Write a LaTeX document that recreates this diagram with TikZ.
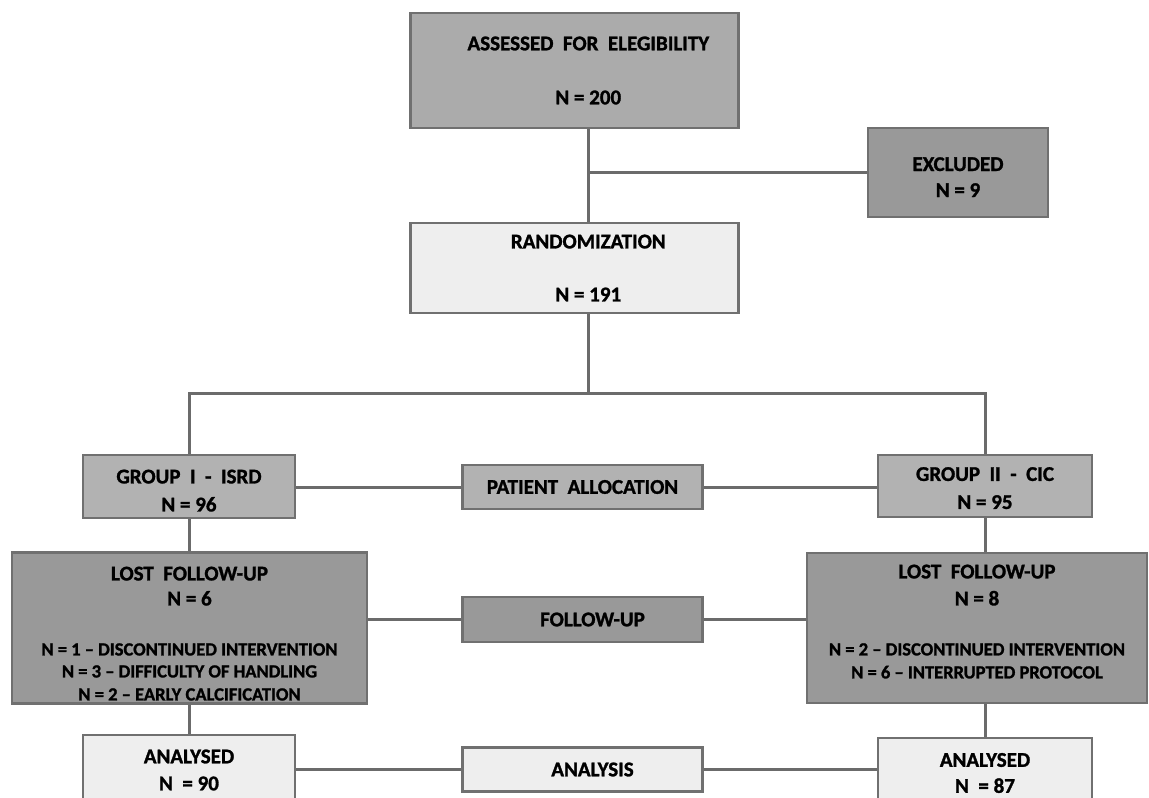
\documentclass[tikz,border=0pt]{standalone}
\usepackage{fontspec}
\setmainfont{Carlito}[BoldFeatures={FakeBold=1.3}]
\definecolor{cTop}{gray}{0.67}
\definecolor{cExc}{gray}{0.60}
\definecolor{cLight}{gray}{0.935}
\definecolor{cGrp}{gray}{0.70}
\definecolor{cLost}{gray}{0.60}
\definecolor{cBorder}{gray}{0.44}
\definecolor{cLine}{gray}{0.42}
\newcommand{\hdfont}{\fontsize{21}{22}\bfseries\selectfont}
\newcommand{\smfont}{\fontsize{18.5}{22}\bfseries\selectfont}
\tikzset{
  box/.style={draw=cBorder, line width=2.6pt, inner sep=0pt, align=center, font=\hdfont, text=black},
  conn/.style={draw=cLine, line width=3pt}
}
\begin{document}
\begin{tikzpicture}[x=1pt,y=-1pt]
\useasboundingbox (0,0) rectangle (1149,798);
\clip (0,0) rectangle (1149,798);
% boxes
\node[box, fill=cTop, minimum width=328pt, minimum height=115pt] (assess) at (574.3,70.5)
  {\hspace*{28pt}ASSESSED~ FOR~ ELEGIBILITY\\[32pt]\hspace*{28pt}N = 200};
\node[box, fill=cExc, minimum width=180pt, minimum height=89pt] (excl) at (958,172.5)
  {\rule{0pt}{23pt}EXCLUDED\\[4pt]N = 9};
\node[box, fill=cLight, minimum width=328pt, minimum height=90pt] (rand) at (574.3,268)
  {\hspace*{28pt}RANDOMIZATION\\[31pt]\hspace*{28pt}N = 191};
\node[box, fill=cGrp, minimum width=212pt, minimum height=63pt] (g1) at (189,486.5)
  {\rule{0pt}{22pt}GROUP~ I~ -~ ISRD\\[6pt]N = 96};
\node[box, fill=cGrp, minimum width=214pt, minimum height=62pt] (g2) at (985,486)
  {\rule{0pt}{18pt}GROUP~ II~ -~ CIC\\[6pt]N = 95};
\node[box, fill=cGrp, minimum width=240pt, minimum height=44pt] (pa) at (582.5,487)
  {PATIENT~ ALLOCATION};
\node[box, fill=cLost, minimum width=355pt, minimum height=151pt] (l1) at (189.5,628)
  {\rule{0pt}{25pt}LOST~ FOLLOW-UP\\[3pt]N = 6\\[28pt]{\smfont N = 1 -- DISCONTINUED INTERVENTION}\\[0pt]{\smfont N = 3 -- DIFFICULTY OF HANDLING}\\[1pt]{\smfont N = 2 -- EARLY CALCIFICATION}};
\node[box, fill=cLost, minimum width=340pt, minimum height=150pt] (l2) at (977,628)
  {LOST~ FOLLOW-UP\\[5pt]N = 8\\[28pt]{\smfont N = 2 -- DISCONTINUED INTERVENTION}\\[1pt]{\smfont N = 6 -- INTERRUPTED PROTOCOL\rule[-13pt]{0pt}{0pt}}};
\node[box, fill=cLost, minimum width=240pt, minimum height=45pt] (fu) at (582.5,619.5)
  {\hspace*{20pt}FOLLOW-UP};
\node[box, fill=cLight, minimum width=212pt, minimum height=70pt] (a1) at (189,770)
  {ANALYSED\\[5pt]N~ = 90};
\node[box, fill=cLight, minimum width=214pt, minimum height=70pt] (a2) at (985,773)
  {ANALYSED\\[4pt]N~ = 87};
\node[box, fill=cLight, minimum width=240pt, minimum height=44pt] (an) at (582.5,769.5)
  {\hspace*{20pt}ANALYSIS};
% connectors
\coordinate (tx) at (588,150);
\coordinate (split) at (588,393);
\draw[conn] (tx |- assess.south) -- (tx |- rand.north);
\draw[conn] (tx |- excl.west) -- (excl.west);
\draw[conn] (tx |- rand.south) -- (split);
\draw[conn] (g1.north) |- (split) -| (g2.north);
\draw[conn] (g1.south) -- (g1.south |- l1.north);
\draw[conn] (g1.south |- l1.south) -- (g1.south |- a1.north);
\draw[conn] (g2.south) -- (g2.south |- l2.north);
\draw[conn] (g2.south |- l2.south) -- (g2.south |- a2.north);
\draw[conn] (pa.west -| g1.east) -- (pa.west);
\draw[conn] (pa.east) -- (pa.east -| g2.west);
\draw[conn] (fu.west -| l1.east) -- (fu.west);
\draw[conn] (fu.east) -- (fu.east -| l2.west);
\draw[conn] (an.west -| a1.east) -- (an.west);
\draw[conn] (an.east) -- (an.east -| a2.west);
\end{tikzpicture}
\end{document}
